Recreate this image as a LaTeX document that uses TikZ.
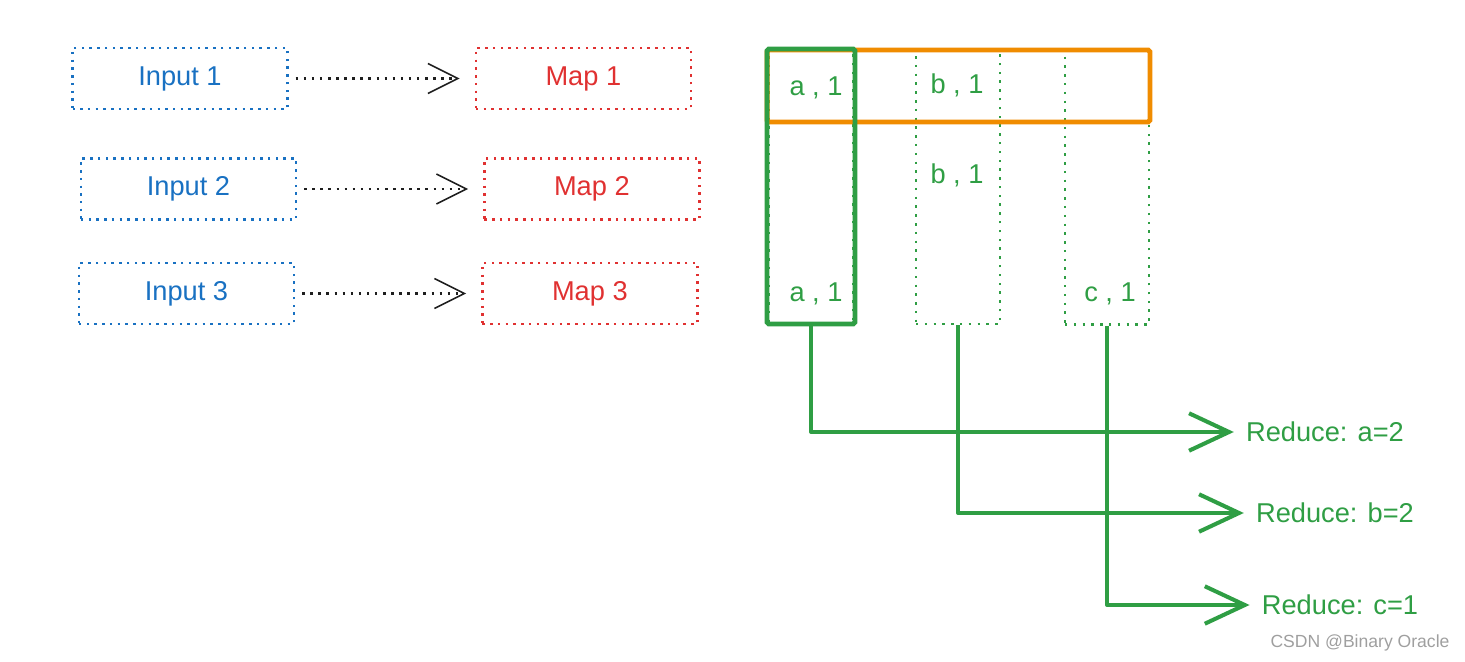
\documentclass[tikz,border=0pt]{standalone}
\usepackage{fontspec}
\setmainfont{Liberation Sans}
\usetikzlibrary{positioning,arrows.meta}
\definecolor{inblue}{HTML}{1971C2}
\definecolor{mapred}{HTML}{E03131}
\definecolor{kvgreen}{HTML}{2F9E44}
\definecolor{roworange}{HTML}{F08C00}
\definecolor{dotblack}{HTML}{1E1E1E}

\begin{document}
\begin{tikzpicture}[x=0.02cm, y=-0.02cm,
	font=\fontsize{15.5}{18}\selectfont,
	dotbox/.style={draw, line width=1.4pt, dash pattern=on 1.4pt off 3pt, minimum width=4.3cm, minimum height=1.22cm},
	inbox/.style={dotbox, draw=inblue, text=inblue},
	mapbox/.style={dotbox, draw=mapred, text=mapred},
	feed/.style={draw=dotblack, line width=1.4pt, dash pattern=on 1.4pt off 3.2pt, -{Straight Barb[length=0.6cm, width=0.6cm, line width=0.9pt]}, shorten <=4pt, shorten >=0.3cm},
	kvcol/.style={draw=kvgreen, line width=1.3pt, dash pattern=on 1.4pt off 3.6pt, minimum width=1.68cm, minimum height=5.48cm},
	kv/.style={text=kvgreen},
	kvgroup/.style={draw=kvgreen, line width=2.8pt, rounded corners=1pt, minimum width=1.76cm, minimum height=5.5cm},
	kvrow/.style={draw=roworange, line width=2.8pt, rounded corners=1pt, minimum width=7.66cm, minimum height=1.44cm},
	shuffle/.style={draw=kvgreen, line width=2.3pt, line join=round, -{Straight Barb[length=0.8cm, width=0.75cm]}},
	reduce/.style={text=kvgreen, inner sep=0.24cm},
	]
	\useasboundingbox (0,0) rectangle (1465,662);
	
	\node[inbox] (in1) at (180,78.5) {Input 1};
	\node[inbox] (in2) at (188.5,189) {Input 2};
	\node[inbox] (in3) at (186.5,293.5) {Input 3};
	\node[mapbox, right=3.72cm of in1] (map1) {Map 1};
	\node[mapbox, right=3.72cm of in2] (map2) {Map 2};
	\node[mapbox, right=3.72cm of in3] (map3) {Map 3};
	
	\draw[feed] (in1.east) -- (map1.west);
	\draw[feed] (in2.east) -- (map2.west);
	\draw[feed] (in3.east) -- (map3.west);
	
	\node[kvcol] (acol) at (811,187) {};
	\node[kvcol] (bcol) at (958,187) {};
	\node[kvcol] (ccol) at (1107,187.5) {};
	\node[kvrow] (row1) at (958.5,86) {};
	\node[kvgroup] (agrp) at (811,186.5) {};
	
	\node[kv] (a1) at (816,88) {a , 1};
	\node[kv] (b1) at (957,85) {b , 1};
	\node[kv] (b2) at (957,175) {b , 1};
	\node[kv] (a3) at (816,294) {a , 1};
	\node[kv] (c3) at (1110,294) {c , 1};
	
	\node[reduce] (ra) at (1325,432) {Reduce: a=2};
	\node[reduce] (rb) at (1335,513) {Reduce: b=2};
	\node[reduce] (rc) at (1340,605) {Reduce: c=1};
	
	\draw[shuffle] (agrp.south) |- (ra.west);
	\draw[shuffle] (bcol.south) |- (rb.west);
	\draw[shuffle] (ccol.south) |- (rc.west);
	
	\node[text=gray!75, font=\fontsize{10}{12}\selectfont] (mark) at (1360,643) {CSDN @Binary Oracle};
\end{tikzpicture}
\end{document}
